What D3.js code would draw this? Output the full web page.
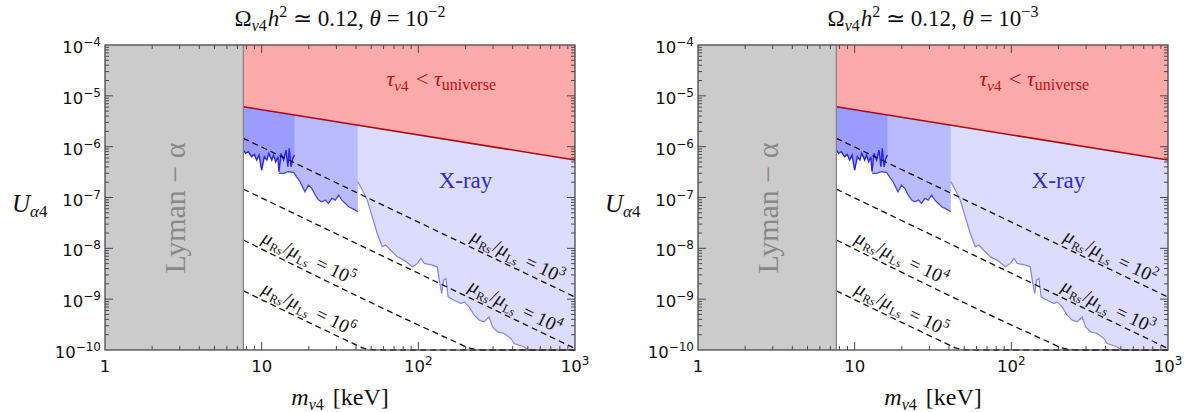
<!DOCTYPE html>
<html>
<head>
<meta charset="utf-8">
<script src="https://cdn.jsdelivr.net/npm/d3@7"></script>
<style>
    body { margin: 0; background: #fff; }
    text { font-family: "Liberation Serif", serif; }
    .tick-label { font-family: "DejaVu Sans", sans-serif; font-size: 16.5px; fill: #111; }
</style>
</head>
<body>
<div id="chart"></div>
<script>
// ---- data (masses in keV, mixing |U|) ----
const massDomain = [1, 1000];
const mixingDomain = [1e-10, 1e-4];

const lymanBound = 7.64;
const lifetimeBound = [[7.64, 6.1e-6], [1000, 5.45e-7]];

// strongest X-ray bound (dark band)
const xrayStrong = [
    [7.64, 8.57e-7], [7.90, 7.38e-7], [8.22, 7.94e-7], [8.63, 6.33e-7], [8.98, 7.05e-7],
    [9.29, 5.45e-7], [9.62, 6.84e-7], [10.0, 3.46e-7], [10.4, 6.33e-7], [10.8, 5.45e-7],
    [11.1, 7.38e-7], [11.6, 5.45e-7], [11.9, 6.84e-7], [12.3, 5.05e-7], [12.7, 6.33e-7],
    [12.9, 3.21e-7], [13.3, 7.38e-7], [13.8, 5.45e-7], [14.3, 8.57e-7], [14.7, 4.02e-7],
    [15.0, 9.27e-7], [15.4, 4.02e-7], [15.8, 5.89e-7], [16.2, 6.84e-7]
];
// middle band
const xrayMedium = [
    [12.9, 2.98e-7], [13.8, 2.98e-7], [14.8, 3.21e-7], [16.0, 3.12e-7], [16.7, 2.55e-7],
    [17.6, 2.04e-7], [18.0, 1.75e-7], [18.9, 1.29e-7], [19.9, 1.75e-7], [20.9, 1.51e-7],
    [22.0, 1.11e-7], [23.1, 8.89e-8], [24.2, 8.23e-8], [25.5, 8.89e-8], [26.7, 7.65e-8],
    [28.1, 9.6e-8], [29.5, 8.89e-8], [31.0, 1.11e-7], [32.5, 8.89e-8], [34.2, 7.65e-8],
    [35.9, 6.56e-8], [37.7, 6.1e-8], [39.6, 5.65e-8], [41.1, 5.24e-8]
];
// weakest band, reaching high masses
const xrayWeak = [
    [41.1, 2.04e-7], [43.9, 1.4e-7], [47.2, 8.89e-8], [50.8, 4.17e-8], [54.7, 1.96e-8],
    [58.9, 1.07e-8], [61.8, 1.16e-8], [66.6, 9.22e-9], [73.5, 6.81e-9], [81.0, 5.86e-9],
    [91.7, 4.33e-9], [98.7, 5.05e-9], [104, 6.33e-9], [109, 5.05e-9], [123, 4.67e-9],
    [132, 4.33e-9], [136, 2.37e-9], [141, 1.29e-9], [145, 2.37e-9], [150, 2.55e-9],
    [155, 1.11e-9], [169, 9.54e-10], [187, 8.22e-10], [196, 8.85e-10], [211, 7.05e-10],
    [227, 4.84e-10], [245, 3.86e-10], [263, 3.57e-10], [283, 4.49e-10], [298, 2.85e-10],
    [321, 2.27e-10], [353, 2.11e-10], [390, 1.68e-10], [409, 1.34e-10], [441, 1.24e-10],
    [474, 1.15e-10], [499, 1.02e-10], [600, 8e-11], [1000, 6e-11]
];

// contours of mu_Rs/mu_Ls (top to bottom)
const ratioLines = [
    [[7.64, 1.46e-6], [1000, 1.1e-9]],
    [[7.64, 1.46e-7], [1000, 1.07e-10]],
    [[7.64, 1.46e-8], [180, 1.36e-10], [210, 1.1e-10], [240, 1.02e-10], [300, 1.0e-10], [1000, 1.0e-10]],
    [[7.64, 1.46e-9], [38, 1.36e-10], [44, 1.1e-10], [50, 1.02e-10], [62, 1.0e-10], [1000, 1.0e-10]]
];
const ratioLabelMass = [400, 385, 18.5, 18.5];

const thetaExponents = ['\u22122', '\u22123'];
const ratioExponents = [['3', '4', '5', '6'], ['2', '3', '4', '5']];

const xTicks = [1, 10, 100, 1000];
const xTickLabels = [['1', ''], ['10', ''], ['10', '2'], ['10', '3']];
const yTicks = [1e-4, 1e-5, 1e-6, 1e-7, 1e-8, 1e-9, 1e-10];
const yTickLabels = ['\u22124', '\u22125', '\u22126', '\u22127', '\u22128', '\u22129', '\u221210'];

// ---- layout ----
const W = 1194, H = 412;
const panelX = [105, 698], panelW = 470, panelTop = 45, panelH = 305;

const svg = d3.select('#chart').append('svg').attr('width', W).attr('height', H);

// write a run of tspans; off = vertical offset (px) from baseline
function mathText(sel, parts){
    let shift = 0;
    parts.forEach(p=>{
        const off = p.off || 0;
        const ts = sel.append('tspan').text(p.t).attr('dy', off - shift);
        shift = off;
        if(p.it) ts.attr('font-style', 'italic');
        if(p.fs) ts.attr('font-size', p.fs);
        if(p.dx) ts.attr('dx', p.dx);
    });
    return sel;
}

function drawPanel(i){
    const x = d3.scaleLog().domain(massDomain).range([0, panelW]);
    const y = d3.scaleLog().domain(mixingDomain).range([panelH, 0]);

    const g = svg.append('g').attr('transform', `translate(${panelX[i]},${panelTop})`);
    const clipId = 'clip' + i;
    g.append('clipPath').attr('id', clipId)
        .append('rect').attr('x', 0).attr('y', 0).attr('width', panelW).attr('height', panelH + 1);
    const plot = g.append('g').attr('clip-path', `url(#${clipId})`);

    const area = d3.line().x(d=>x(d[0])).y(d=>y(d[1]));
    const top = mixingDomain[1];
    const band = (pts)=> pts.concat([[pts[pts.length-1][0], top], [pts[0][0], top]]);

    // X-ray bands (filled up to the top, red region covers the upper part)
    plot.append('path').attr('d', area(band(xrayWeak)) + 'Z').attr('fill', '#dcdcfe');
    plot.append('path').attr('d', area(band(xrayMedium)) + 'Z').attr('fill', '#babaff');
    plot.append('path').attr('d', area(band(xrayStrong)) + 'Z').attr('fill', '#9c9cff');

    plot.append('path').attr('d', area(xrayWeak)).attr('fill', 'none')
        .attr('stroke', '#8282ff').attr('stroke-width', 1.2);
    plot.append('path').attr('d', area(xrayMedium)).attr('fill', 'none')
        .attr('stroke', '#4646ff').attr('stroke-width', 1.3);
    plot.append('path').attr('d', area(xrayStrong)).attr('fill', 'none')
        .attr('stroke', '#2424ff').attr('stroke-width', 1.4);

    // ratio contours
    const dashed = d3.line().x(d=>x(d[0])).y(d=>y(d[1])).curve(d3.curveMonotoneX);
    ratioLines.forEach(pts=>{
        plot.append('path').attr('d', dashed(pts)).attr('fill', 'none')
            .attr('stroke', '#111').attr('stroke-width', 1.3).attr('stroke-dasharray', '6,4');
    });

    // lifetime bound
    const [a, b] = lifetimeBound;
    plot.append('path')
        .attr('d', area([[a[0], top], [b[0], top], b, a]) + 'Z')
        .attr('fill', '#fdaaab');
    plot.append('path').attr('d', area(lifetimeBound))
        .attr('stroke', '#c00000').attr('stroke-width', 1.5).attr('fill', 'none');

    // Lyman-alpha
    plot.append('rect').attr('x', 0).attr('y', 0)
        .attr('width', x(lymanBound)).attr('height', panelH).attr('fill', '#cbcbcb');
    plot.append('line').attr('x1', x(lymanBound)).attr('x2', x(lymanBound))
        .attr('y1', 0).attr('y2', panelH).attr('stroke', '#808080').attr('stroke-width', 1.2);

    // frame and ticks (inward, all four sides)
    g.append('rect').attr('width', panelW).attr('height', panelH)
        .attr('fill', 'none').attr('stroke', '#4a4a4a').attr('stroke-width', 1.3);

    const ticks = g.append('g').attr('stroke', '#4a4a4a').attr('stroke-width', 1);
    for(let e = 0; e < 3; e++){
        for(let k = 1; k < 10; k++){
            const v = k * Math.pow(10, e), len = k === 1 ? 8 : 4;
            if(k === 1 && e === 0) continue;
            ticks.append('line').attr('x1', x(v)).attr('x2', x(v)).attr('y1', panelH).attr('y2', panelH - len);
            ticks.append('line').attr('x1', x(v)).attr('x2', x(v)).attr('y1', 0).attr('y2', len);
        }
    }
    for(let e = -10; e < -4; e++){
        for(let k = 1; k < 10; k++){
            const v = k * Math.pow(10, e), len = k === 1 ? 8 : 4;
            if(k === 1 && e === -10) continue;
            ticks.append('line').attr('y1', y(v)).attr('y2', y(v)).attr('x1', 0).attr('x2', len);
            ticks.append('line').attr('y1', y(v)).attr('y2', y(v)).attr('x1', panelW).attr('x2', panelW - len);
        }
    }

    // tick labels
    xTicks.forEach((v, j)=>{
        const t = g.append('text').attr('class', 'tick-label').attr('text-anchor', 'middle')
            .attr('x', x(v)).attr('y', panelH + 22);
        mathText(t, [{t: xTickLabels[j][0]}, {t: xTickLabels[j][1], off: -7, fs: 12}]);
    });
    yTicks.forEach((v, j)=>{
        const t = g.append('text').attr('class', 'tick-label').attr('text-anchor', 'end')
            .attr('x', -4).attr('y', y(v) + 8);
        mathText(t, [{t: '10'}, {t: yTickLabels[j], off: -7, fs: 12}]);
    });

    // contour labels
    ratioLines.forEach((pts, j)=>{
        const m = ratioLabelMass[j];
        let s = 0;
        while(s < pts.length - 2 && pts[s+1][0] < m) s++;
        const x0 = x(pts[s][0]), y0 = y(pts[s][1]), x1 = x(pts[s+1][0]), y1 = y(pts[s+1][1]);
        const t = (x(m) - x0) / (x1 - x0);
        const px = x0 + t * (x1 - x0), py = y0 + t * (y1 - y0);
        const ang = Math.atan2(y1 - y0, x1 - x0) * 180 / Math.PI;
        const lbl = g.append('text').attr('text-anchor', 'middle').attr('font-size', 19).attr('fill', '#111')
            .attr('transform', `translate(${px},${py}) rotate(${ang}) translate(0,-6)`);
        mathText(lbl, [
            {t: '\u03bc', it: true}, {t: 'Rs', off: 4, fs: 12, dx: 1}, {t: '/', dx: 1},
            {t: '\u03bc', it: true}, {t: 'Ls', off: 4, fs: 12, dx: 1}, {t: ' = 10', dx: 3},
            {t: ratioExponents[i][j], off: -8, fs: 13}
        ]);
    });

    // region labels
    g.append('text').attr('text-anchor', 'middle').attr('font-size', 30).attr('fill', '#888')
        .attr('transform', `translate(${x(lymanBound) / 2 + 11},${163}) rotate(-90)`)
        .text('Lyman \u2212 \u03b1');
    g.append('text').attr('x', x(200)).attr('y', 143).attr('font-size', 23)
        .attr('text-anchor', 'middle').attr('fill', '#2c2cd0').text('X-ray');
    const tau = g.append('text').attr('x', x(140)).attr('y', 41).attr('font-size', 22)
        .attr('text-anchor', 'middle').attr('fill', '#c41010');
    mathText(tau, [
        {t: '\u03c4', it: true}, {t: '\u03bd', it: true, off: 5, fs: 15}, {t: '4', off: 5, fs: 15},
        {t: ' < ', dx: 2}, {t: '\u03c4', it: true}, {t: 'universe', off: 4, fs: 16}
    ]);

    // axis titles
    const yl = g.append('text').attr('x', -93).attr('y', 167).attr('font-size', 25).attr('fill', '#111');
    mathText(yl, [{t: 'U', it: true}, {t: '\u03b1', it: true, off: 5, fs: 17}, {t: '4', off: 5, fs: 17}]);

    const xl = g.append('text').attr('x', panelW / 2).attr('y', panelH + 55).attr('font-size', 24)
        .attr('text-anchor', 'middle').attr('fill', '#111');
    mathText(xl, [{t: 'm', it: true}, {t: '\u03bd', it: true, off: 5, fs: 16}, {t: '4', off: 5, fs: 16}, {t: '  [keV]', dx: 3}]);

    const ti = g.append('text').attr('x', panelW / 2).attr('y', -19).attr('font-size', 23)
        .attr('text-anchor', 'middle').attr('fill', '#111');
    mathText(ti, [
        {t: '\u03a9'}, {t: '\u03bd', it: true, off: 5, fs: 16}, {t: '4', off: 5, fs: 16},
        {t: 'h', it: true, dx: 1}, {t: '2', off: -9, fs: 16}, {t: ' \u2243 0.12, '},
        {t: '\u03b8', it: true}, {t: ' = 10'}, {t: thetaExponents[i], off: -9, fs: 16}
    ]);
}

drawPanel(0);
drawPanel(1);
</script>
</body>
</html>
